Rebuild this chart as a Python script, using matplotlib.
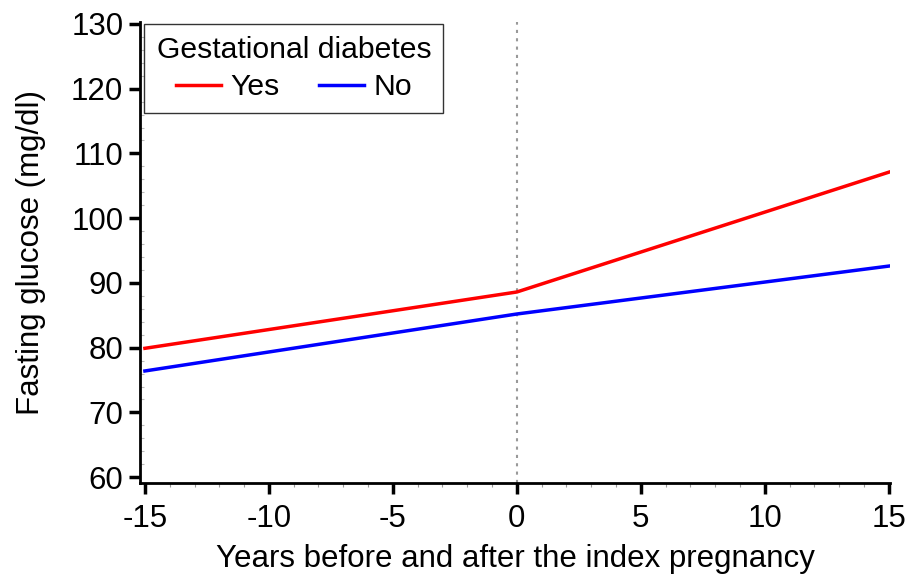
import matplotlib
matplotlib.use("Agg")
import matplotlib.pyplot as plt
from matplotlib.ticker import MultipleLocator

plt.rcParams['font.family'] = ['Liberation Sans', 'DejaVu Sans']

years = [-15, 0, 15]
yes_vals = [79.9, 88.6, 107.1]
no_vals = [76.4, 85.2, 92.6]
xticks = [-15, -10, -5, 0, 5, 10, 15]
yticks = [60, 70, 80, 90, 100, 110, 120, 130]

FS = 22.5
LFS = 21.7

fig = plt.figure(figsize=(9.1, 5.76), dpi=100)
ax = fig.add_axes([0.1538, 0.1615, 0.978 - 0.1538, 0.9618 - 0.1615])

ax.axvline(0, color='#999999', linestyle=(0, (1.5, 2.5)), linewidth=1.5, zorder=1)
ax.plot(years, yes_vals, color='#ff0000', linewidth=2.5, label='Yes', zorder=3)
ax.plot(years, no_vals, color='#0000ff', linewidth=2.5, label='No', zorder=3)

ax.set_xlim(-15.2, 15.05)
ax.set_ylim(59.1, 130.3)
ax.set_xticks(xticks)
ax.set_yticks(yticks)
ax.set_xticklabels(['-15', '-10', '-5', '0', '5', '10', '15'])
ax.xaxis.set_minor_locator(MultipleLocator(1))
ax.yaxis.set_minor_locator(MultipleLocator(2))

for s in ['top', 'right']:
    ax.spines[s].set_visible(False)
for s in ['left', 'bottom']:
    ax.spines[s].set_linewidth(2)

ax.tick_params(which='major', direction='out', length=8, width=2.5, labelsize=FS)
ax.tick_params(axis='x', which='major', pad=7)
ax.tick_params(axis='y', which='major', pad=4)
ax.tick_params(axis='x', which='minor', direction='out', length=3, width=0.8, color='#999999')
ax.tick_params(axis='y', which='minor', direction='in', length=3, width=0.8, color='#bbbbbb')

ax.set_xlabel('Years before and after the index pregnancy', fontsize=FS, labelpad=7)
ax.set_ylabel('Fasting glucose (mg/dl)', fontsize=FS, labelpad=18)

leg = ax.legend(title='Gestational diabetes', ncol=2, loc='upper left',
                bbox_to_anchor=(0.006, 0.995), fontsize=LFS, title_fontsize=LFS,
                frameon=True, fancybox=False, edgecolor='black',
                handlelength=1.5, columnspacing=1.33, handletextpad=0.3,
                borderpad=0.4, labelspacing=0.3, borderaxespad=0,
                alignment='center')
leg.get_frame().set_linewidth(1.0)

fig.savefig('out.png', dpi=100)
